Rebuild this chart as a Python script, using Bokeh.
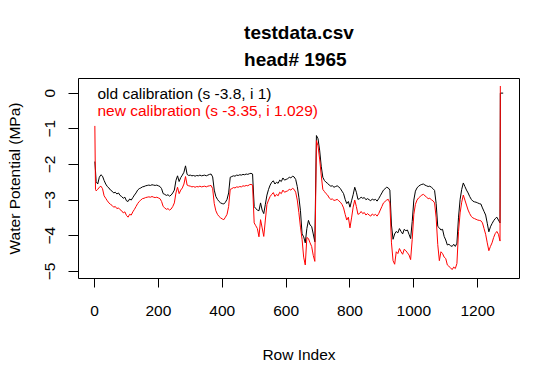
from bokeh.plotting import figure
from bokeh.models import Range1d, Title, Label, FixedTicker
from bokeh.embed import file_html
from bokeh.resources import INLINE

# ---- data ----
row_index = [1, 3] + list(range(5, 1271, 5)) + [1271, 1280]

old_cal = [
    -1.92, -2.18,
    -2.48, -2.55, -2.36, -2.29, -2.33, -2.45, -2.55, -2.62, -2.66, -2.72,
    -2.75, -2.80, -2.78, -2.83, -2.80, -2.87, -2.90, -2.95, -2.92, -3.02,
    -3.04, -2.97, -3.00, -2.93, -2.86, -2.80, -2.72, -2.68, -2.66, -2.63,
    -2.62, -2.60, -2.59, -2.58, -2.59, -2.57, -2.58, -2.59, -2.58, -2.60,
    -2.62, -2.68, -2.82, -2.84, -2.87, -2.85, -2.89, -2.86, -2.80, -2.72,
    -2.45, -2.32, -2.48, -2.37, -2.30, -2.22, -2.04, -2.28, -2.31, -2.30,
    -2.32, -2.31, -2.33, -2.31, -2.32, -2.30, -2.32, -2.31, -2.30, -2.32,
    -2.30, -2.28, -2.27, -2.35, -2.72, -2.90, -2.98, -3.04, -3.08, -3.10,
    -3.11, -3.06, -2.98, -2.80, -2.36, -2.34, -2.32, -2.33, -2.30, -2.31,
    -2.29, -2.30, -2.28, -2.29, -2.27, -2.28, -2.26, -2.25, -2.27, -3.18,
    -3.24, -3.28, -3.30, -3.08, -3.28, -3.38, -3.12, -2.86, -2.70, -2.58,
    -2.50, -2.46, -2.55, -2.50, -2.53, -2.44, -2.48, -2.38, -2.44, -2.42,
    -2.40, -2.36, -2.38, -2.33, -2.35, -2.42, -2.62, -2.92, -3.30, -3.95,
    -4.03, -4.20, -3.80, -3.57, -3.70, -3.74, -3.95, -4.17, -1.19, -1.28,
    -1.60, -2.05, -2.36, -2.45, -2.50, -2.53, -2.58, -2.61, -2.60, -2.64,
    -2.62, -2.60, -2.63, -2.68, -2.75, -2.82, -2.98, -3.10, -3.04, -3.20,
    -3.02, -2.85, -2.64, -2.78, -2.98, -2.96, -2.92, -2.95, -2.93, -2.99,
    -2.96, -2.99, -3.02, -2.97, -3.00, -2.98, -3.03, -2.96, -2.88, -2.80,
    -2.72, -2.68, -2.64, -2.66, -2.72, -3.70, -4.10, -3.95, -3.88, -3.92,
    -3.80, -3.88, -3.95, -3.82, -3.86, -3.84, -3.96, -4.08, -3.60, -3.00,
    -2.75, -2.66, -2.61, -2.58, -2.56, -2.55, -2.58, -2.60, -2.62, -2.61,
    -2.64, -2.68, -2.73, -3.10, -3.74, -3.78, -3.84, -3.82, -4.02, -4.12,
    -4.26, -4.24, -4.28, -4.30, -4.24, -4.30, -4.21, -3.48, -2.98, -2.70,
    -2.52, -2.62, -2.72, -2.80, -2.90, -2.98, -3.03, -3.05, -3.06, -3.08,
    -3.10, -3.11, -3.22, -3.32, -3.42, -3.65, -3.89, -3.75, -3.66, -3.58,
    -3.52, -3.48, -3.56, -3.64,
    0.00, 0.00,
]

new_cal = [
    -0.92, -2.70,
    -2.74, -2.70, -2.64, -2.61, -2.68, -2.88, -2.95, -3.02, -3.08, -3.12,
    -3.15, -3.20, -3.18, -3.24, -3.22, -3.27, -3.30, -3.36, -3.33, -3.43,
    -3.48, -3.40, -3.42, -3.33, -3.26, -3.18, -3.10, -3.04, -3.00, -2.96,
    -2.95, -2.93, -2.92, -2.91, -2.92, -2.90, -2.92, -2.93, -2.92, -2.94,
    -2.96, -3.04, -3.18, -3.22, -3.26, -3.24, -3.28, -3.25, -3.18, -3.08,
    -2.80, -2.64, -2.82, -2.72, -2.66, -2.55, -2.34, -2.58, -2.60, -2.61,
    -2.63, -2.62, -2.64, -2.62, -2.63, -2.61, -2.63, -2.62, -2.61, -2.63,
    -2.61, -2.60, -2.59, -2.68, -3.10, -3.30, -3.40, -3.46, -3.50, -3.53,
    -3.55, -3.48, -3.40, -3.18, -2.70, -2.68, -2.65, -2.66, -2.63, -2.64,
    -2.62, -2.63, -2.60, -2.61, -2.59, -2.60, -2.57, -2.56, -2.58, -3.64,
    -3.72, -3.80, -4.03, -3.55, -3.78, -4.02, -3.56, -3.12, -3.00, -2.90,
    -2.84, -2.79, -2.90, -2.84, -2.88, -2.78, -2.82, -2.72, -2.78, -2.76,
    -2.74, -2.70, -2.72, -2.67, -2.70, -2.78, -3.00, -3.35, -3.76, -4.10,
    -4.60, -4.82, -4.05, -4.08, -4.20, -4.30, -4.55, -4.72, -1.33, -1.48,
    -1.85, -2.30, -2.70, -2.76, -2.82, -2.86, -2.94, -2.98, -2.97, -3.01,
    -3.00, -2.98, -3.02, -3.06, -3.12, -3.22, -3.40, -3.56, -3.48, -3.78,
    -3.50, -3.20, -3.00, -3.18, -3.40, -3.38, -3.32, -3.38, -3.35, -3.42,
    -3.38, -3.42, -3.45, -3.39, -3.43, -3.40, -3.45, -3.38, -3.28, -3.18,
    -3.08, -3.04, -3.00, -2.98, -3.08, -4.20, -4.70, -4.80, -4.45, -4.50,
    -4.36, -4.45, -4.52, -4.38, -4.42, -4.48, -4.54, -4.67, -4.10, -3.40,
    -3.12, -3.00, -2.94, -2.90, -2.86, -2.84, -2.88, -2.92, -2.96, -2.95,
    -2.99, -3.02, -3.08, -3.50, -4.25, -4.70, -4.45, -4.50, -4.60, -4.64,
    -4.82, -4.86, -4.90, -4.95, -4.88, -4.92, -4.78, -3.88, -3.36, -3.06,
    -2.86, -3.00, -3.14, -3.28, -3.38, -3.46, -3.50, -3.52, -3.54, -3.56,
    -3.57, -3.58, -3.64, -3.80, -3.96, -4.20, -4.42, -4.30, -4.20, -4.05,
    -3.94, -3.88, -3.96, -4.15,
    0.20, float("nan"),
]

x_ticks = [0, 200, 400, 600, 800, 1000, 1200]
y_ticks = [0, -1, -2, -3, -4, -5]
title_lines = ["testdata.csv", "head# 1965"]
legend_old = "old calibration (s -3.8, i 1)"
legend_new = "new calibration (s -3.35, i 1.029)"

FONT = "Liberation Sans"

p = figure(width=543, height=365, output_backend="svg", toolbar_location=None,
           title=None,
           x_range=Range1d(-50.2, 1331), y_range=Range1d(-5.20, 0.41),
           min_border_left=78, min_border_right=24, min_border_top=78,
           min_border_bottom=82)

p.background_fill_color = "white"
p.border_fill_color = "white"
p.outline_line_color = "black"
p.outline_line_width = 1
p.grid.visible = False

p.line(row_index, old_cal, line_color="black", line_width=1)
p.line(row_index, new_cal, line_color="#FF0000", line_width=1)

for ax in (p.xaxis[0], p.yaxis[0]):
    ax.axis_line_color = None
    ax.major_tick_line_color = "black"
    ax.major_tick_in = 0
    ax.minor_tick_line_color = None
    ax.major_label_text_font = FONT
    ax.major_label_text_font_size = "15.5px"
    ax.major_label_text_color = "black"
    ax.axis_label_text_font = FONT
    ax.axis_label_text_font_style = "normal"
    ax.axis_label_text_font_size = "15.5px"
    ax.axis_label_text_color = "black"

p.xaxis.ticker = FixedTicker(ticks=x_ticks)
p.xaxis.major_tick_out = 9
p.xaxis.major_label_standoff = 18
p.xaxis.axis_label = "Row Index"
p.xaxis.axis_label_standoff = 27

p.yaxis.ticker = FixedTicker(ticks=y_ticks)
p.yaxis.major_tick_out = 10
p.yaxis.major_label_orientation = "vertical"
p.yaxis.major_label_standoff = 13
p.yaxis.axis_label = "Water Potential (MPa)"
p.yaxis.axis_label_standoff = 20

p.add_layout(Title(text="\n".join(title_lines), align="center", text_font=FONT,
                   text_font_size="19px", text_font_style="bold",
                   text_line_height=1.25, text_color="black", standoff=18),
             "above")

p.add_layout(Label(x=9, y=-0.02, text=legend_old, text_baseline="middle",
                   text_font=FONT, text_font_size="15.5px", text_color="black"))
p.add_layout(Label(x=9, y=-0.50, text=legend_new, text_baseline="middle",
                   text_font=FONT, text_font_size="15.5px", text_color="#FF0000"))

open("out.html", "w").write(file_html(p, INLINE))
